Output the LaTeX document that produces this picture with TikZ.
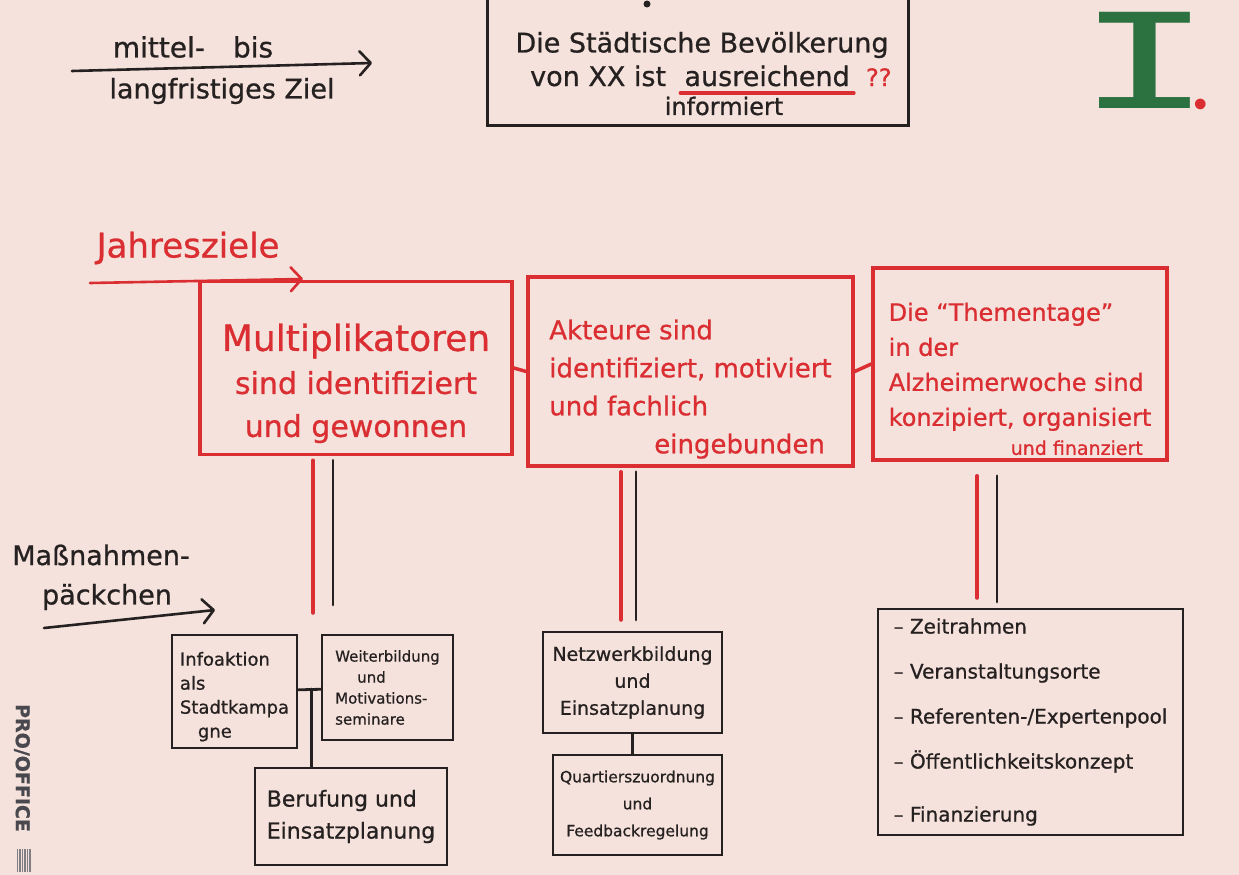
\documentclass[tikz,border=0pt]{standalone}
\usepackage{fontspec}
\setmainfont{DejaVu Sans}[FakeBold=0.8]
\newfontfamily\monofont{DejaVu Sans Mono}
\newfontfamily\dotfont{Liberation Serif}
\usetikzlibrary{arrows.meta,calc}

\definecolor{paper}{RGB}{245,226,220}
\definecolor{inkblack}{RGB}{38,33,33}
\definecolor{inkred}{RGB}{218,46,50}
\definecolor{inkgreen}{RGB}{44,114,64}
\definecolor{printgray}{RGB}{72,72,78}
\newcommand{\pen}[2]{\fontsize{#1pt}{#2pt}\selectfont}

\begin{document}
\begin{tikzpicture}[x=1pt,y=-1pt,
  redbox/.style={draw=inkred, line width=3.5pt, inner sep=0pt, text=inkred},
  blackbox/.style={draw=inkblack, line width=2.8pt, inner sep=0pt, text=inkblack},
  redlink/.style={draw=inkred, line width=3.5pt, line cap=round},
  blacklink/.style={draw=inkblack, line width=2.8pt, line cap=round},
  penarrow/.style={line width=2.6pt, line cap=round,
    -{Straight Barb[length=11pt,width=24pt,round]}},
  inktext/.style={text=inkblack, inner sep=0pt},
  redtext/.style={text=inkred, inner sep=0pt},
]
\useasboundingbox (0,0) rectangle (1239,875);
\fill[paper] (0,0) rectangle (1239,875);

% ---------- long-term goal ----------
\node[blackbox, minimum width=421pt, minimum height=137pt] (goal) at (698,57) {};
\fill[inkblack] (647,4) circle (3.5);
\node[inktext, font=\pen{27}{32}] (g1) at (702,45) {Die Städtische Bevölkerung};
\node[inktext, font=\pen{27}{32}, anchor=base west] (g2a) at (530,86) {von XX ist};
\node[inktext, font=\pen{27}{32}, anchor=base west] (g2b) at ([xshift=18pt]g2a.base east) {ausreichend};
\node[redtext, font=\pen{24}{28}, anchor=base west] (qq) at ([xshift=16pt]g2b.base east) {??};
\draw[redlink] ([xshift=-4pt,yshift=-7pt]g2b.base west) -- ([xshift=4pt,yshift=-7pt]g2b.base east);
\node[inktext, font=\pen{24}{28}] (g3) at (724,106) {informiert};

\node[inktext, font=\pen{28}{32}] (lt1) at (193,47) {mittel-\hspace{28pt}bis};
\node[inktext, font=\pen{27}{32}] (lt2) at (222,91) {langfristiges Ziel};
\coordinate (ltS) at (72,71);
\coordinate (ltE) at (372,63);
\draw[penarrow, inkblack] (ltS) -- (ltE);

% ---------- numeral "I." (green stroke, red full stop) ----------
\node[text=inkgreen, inner sep=0pt, anchor=base west, font=\monofont\fontsize{132pt}{132pt}\selectfont] (num) at (1100,108)
  {\hspace*{-23pt}\scalebox{1.7}[1]{I}\hspace*{-23pt}\textcolor{inkred}{\dotfont\fontsize{90pt}{90pt}\selectfont .}};

% ---------- annual goals ----------
\node[redtext, font=\pen{34}{40}] (jz) at (188,248) {Jahresziele};
\coordinate (jzS) at (90,283);
\coordinate (jzE) at (303,279);
\draw[penarrow, inkred] (jzS) -- (jzE);

\node[redbox, minimum width=312pt, minimum height=173pt, align=center, font=\pen{30}{43}] (m1) at (356,368)
  {\rule{0pt}{58pt}{\fontsize{36pt}{43pt}\selectfont Multiplikatoren}\\sind identifiziert\\und gewonnen};
\node[redbox, minimum width=325pt, minimum height=189pt, align=left, font=\pen{26}{38}] (m2) at (690.5,371.5)
  {\rule{0pt}{55pt}Akteure sind\\identifiziert, motiviert\\und fachlich\\\hspace*{105pt}eingebunden};
\node[redbox, minimum width=294pt, minimum height=192pt, align=left, font=\pen{24}{35}] (m3) at (1020,364)
  {\rule{0pt}{48pt}Die “Thementage”\\in der\\Alzheimerwoche sind\\konzipiert, organisiert\\[-6pt]\hspace*{122pt}{\fontsize{19pt}{26pt}\selectfont und finanziert}};

\draw[redlink] (m1.east) -- (m2.west);
\draw[redlink] (m2.east) -- (m3.west);

% ---------- double strokes down to the packages ----------
\coordinate (v1r) at (313,613);
\coordinate (v1k) at (333,605);
\coordinate (v2r) at (621,620);
\coordinate (v2k) at (636,620);
\coordinate (v3r) at (977,598);
\coordinate (v3k) at (997,602);
\draw[redlink, shorten <=4pt] (m1.south -| v1r) -- (v1r);
\draw[blacklink, shorten <=4pt] (m1.south -| v1k) -- (v1k);
\draw[redlink, shorten <=4pt] (m2.south -| v2r) -- (v2r);
\draw[blacklink, shorten <=4pt] (m2.south -| v2k) -- (v2k);
\draw[redlink, shorten <=14pt] (m3.south -| v3r) -- (v3r);
\draw[blacklink, shorten <=14pt] (m3.south -| v3k) -- (v3k);

% ---------- measure packages ----------
\node[inktext, font=\pen{27}{32}] (mp1) at (101,555) {Maßnahmen-};
\node[inktext, font=\pen{27}{32}] (mp2) at (107,597) {päckchen};
\coordinate (mpS) at (44,628);
\coordinate (mpE) at (215,610);
\draw[penarrow, inkblack] (mpS) -- (mpE);

\node[blackbox, minimum width=125pt, minimum height=113pt, align=left, font=\pen{18}{24}] (b1) at (234.5,691.5)
  {\rule{0pt}{24pt}Infoaktion\\als\\Stadtkampa\\\hspace*{18pt}gne};
\node[blackbox, minimum width=131pt, minimum height=105pt, align=left, font=\pen{15}{21}] (b2) at (387.5,687.5)
  {Weiterbildung\\\hspace*{22pt}und\\Motivations-\\seminare};
\node[blackbox, minimum width=192pt, minimum height=97pt, align=left, font=\pen{22}{32}] (b3) at (351,816.5)
  {Berufung und\\Einsatzplanung};
\draw[blacklink] (b1) -- (b2);
\coordinate (bj) at ($(b1.east)!0.6!(b2.west)$);
\draw[blacklink] (bj) -- (bj |- b3.north);

\node[blackbox, minimum width=179pt, minimum height=101pt, align=center, font=\pen{19}{27}] (b4) at (632.5,682.5)
  {Netzwerkbildung\\und\\Einsatzplanung};
\node[blackbox, minimum width=169pt, minimum height=100pt, align=center, font=\pen{15.5}{27}] (b5) at (637.5,805)
  {Quartierszuordnung\\und\\Feedbackregelung};
\draw[blacklink] (b4.south) -- (b4.south |- b5.north);

\node[blackbox, minimum width=305pt, minimum height=226pt, align=left, font=\pen{20}{45}] (b6) at (1030.5,722)
  {– Zeitrahmen\\– Veranstaltungsorte\\– Referenten-/Expertenpool\\– Öffentlichkeitskonzept\\[8pt]– Finanzierung};

% ---------- printed pad branding ----------
\node[text=printgray, inner sep=0pt, rotate=-90, font=\bfseries\pen{19}{19}] (brand) at (22,768) {PRO/OFFICE};
\foreach \bx in {17,19,20.5,22,24,25.5,27,29,30.5}
  \draw[printgray!70, line width=0.8pt] (\bx,849) -- (\bx,872);
\end{tikzpicture}
\end{document}
